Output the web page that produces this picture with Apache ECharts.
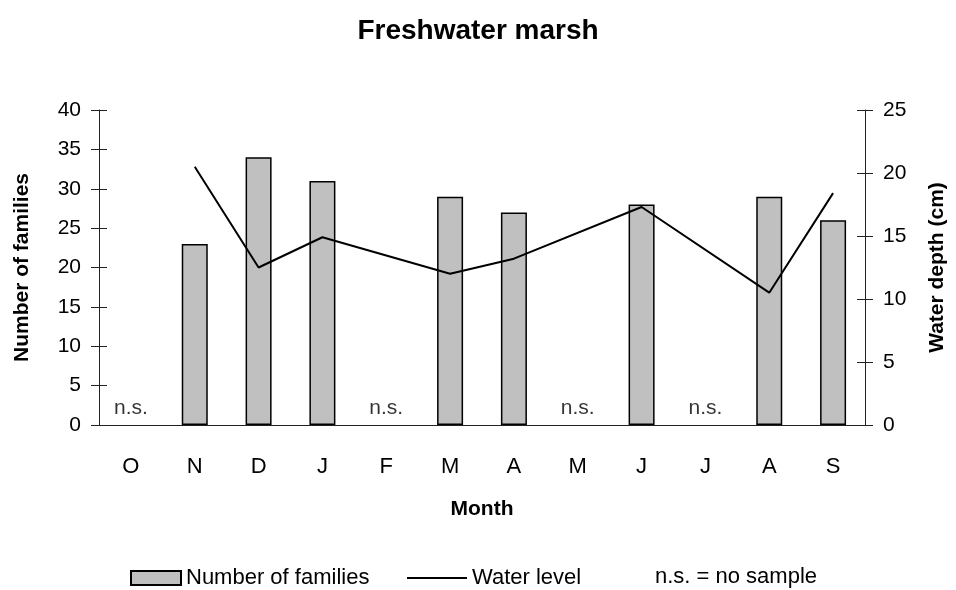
<!DOCTYPE html>
<html>
<head>
<meta charset="utf-8">
<script src="https://cdn.jsdelivr.net/npm/echarts@6/dist/echarts.min.js"></script>
<style>
  html, body { margin: 0; padding: 0; background: #fff; }
  #main { width: 956px; height: 590px; }
</style>
</head>
<body>
<div id="main"></div>
<script>
// months Oct -> Sep
const months = ['O', 'N', 'D', 'J', 'F', 'M', 'A', 'M', 'J', 'J', 'A', 'S'];
// number of families (null = no sample)
const families = [null, 23, 34, 31, null, 29, 27, null, 28, null, 29, 26];
// water depth (cm)
const waterLevel = [null, 20.5, 12.5, 14.9, null, 12.0, 13.2, null, 17.3, null, 10.5, 18.4];
// months without a sample
const noSampleIdx = [0, 4, 7, 9];

const font = 'Liberation Sans, Arial, sans-serif';
const axisCol = '#222';

let nsData = noSampleIdx.map((i) => [i, 0]);

// hidden copy of an axis, only to draw the inner half of the ticks
function innerTicks(pos, max) {
    return {
        type: 'value', min: 0, max: max, interval: 5, position: pos,
        axisLine: { show: false },
        axisTick: { show: true, inside: true, length: 8, lineStyle: { color: axisCol } },
        axisLabel: { show: false },
        splitLine: { show: false }
    };
}

let options = {
    animation: false,
    textStyle: { fontFamily: font, color: '#000' },
    title: {
        text: 'Freshwater marsh',
        left: 'center',
        top: 12,
        textStyle: { fontSize: 28, fontWeight: 'bold', color: '#000', fontFamily: font }
    },
    grid: { left: 99, right: 90, top: 110, bottom: 165 },
    legend: [{
        left: 125,
        top: 562,
        itemWidth: 50,
        itemHeight: 14,
        icon: 'rect',
        textStyle: { fontSize: 22, color: '#000', fontFamily: font },
        data: ['Number of families']
    }, {
        left: 402,
        top: 562,
        itemWidth: 60,
        itemHeight: 2,
        icon: 'rect',
        textStyle: { fontSize: 22, color: '#000', fontFamily: font },
        data: ['Water level']
    }],
    graphic: [{
        type: 'text',
        left: 655,
        top: 566,
        style: { text: 'n.s. = no sample', fontSize: 22, fill: '#000', fontFamily: font }
    }],
    xAxis: {
        type: 'category',
        data: months,
        name: 'Month',
        nameLocation: 'middle',
        nameGap: 74,
        nameTextStyle: { fontSize: 21, fontWeight: 'bold', color: '#000' },
        axisLine: { lineStyle: { color: axisCol, width: 1 } },
        axisTick: { length: 8, lineStyle: { color: axisCol } },
        axisLabel: { fontSize: 22, color: '#000', margin: 31 }
    },
    yAxis: [{
        type: 'value',
        min: 0, max: 40, interval: 5,
        name: 'Number of families',
        nameLocation: 'middle',
        nameGap: 66,
        nameTextStyle: { fontSize: 21, fontWeight: 'bold', color: '#000' },
        axisLine: { show: true, lineStyle: { color: axisCol, width: 1 } },
        axisTick: { show: true, length: 8, lineStyle: { color: axisCol } },
        axisLabel: { fontSize: 21, color: '#000', margin: 18 },
        splitLine: { show: false }
    }, {
        type: 'value',
        min: 0, max: 25, interval: 5,
        position: 'right',
        name: 'Water depth (cm)',
        nameLocation: 'middle',
        nameRotate: 90,
        nameGap: 62,
        nameTextStyle: { fontSize: 21, fontWeight: 'bold', color: '#000' },
        axisLine: { show: true, lineStyle: { color: axisCol, width: 1 } },
        axisTick: { show: true, length: 8, lineStyle: { color: axisCol } },
        axisLabel: { fontSize: 21, color: '#000', margin: 18 },
        splitLine: { show: false }
    }, innerTicks('left', 40), innerTicks('right', 25)],
    series: [{
        name: 'Number of families',
        type: 'bar',
        data: families,
        barWidth: 26,
        itemStyle: { color: '#c0c0c0', borderColor: '#000', borderWidth: 1.5 }
    }, {
        name: 'Water level',
        type: 'line',
        yAxisIndex: 1,
        data: waterLevel,
        connectNulls: true,
        symbol: 'none',
        lineStyle: { color: '#000', width: 2 },
        itemStyle: { color: '#000' }
    }, {
        name: 'n.s.',
        type: 'scatter',
        data: nsData,
        symbolSize: 0,
        silent: true,
        label: {
            show: true,
            position: 'top',
            distance: 6,
            formatter: 'n.s.',
            fontSize: 21,
            color: '#000',
            fontFamily: font
        }
    }]
};

let myChart = echarts.init(document.getElementById('main'));
myChart.setOption(options);
</script>
</body>
</html>
